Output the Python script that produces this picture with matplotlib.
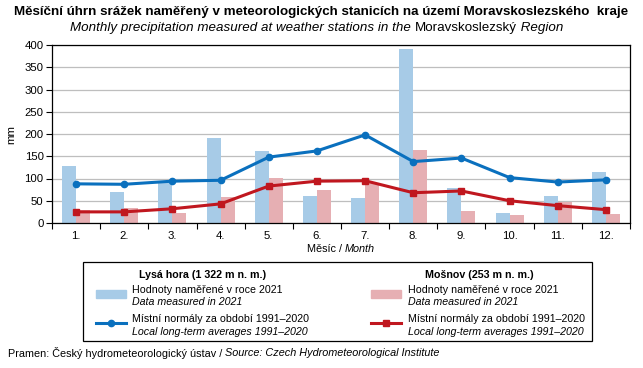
import matplotlib

matplotlib.use("Agg")
import matplotlib.pyplot as plt
import numpy as np
from matplotlib.lines import Line2D
from matplotlib.patches import Rectangle

plt.rcParams["font.family"] = ["Liberation Sans", "DejaVu Sans"]

months = ["1.", "2.", "3.", "4.", "5.", "6.", "7.", "8.", "9.", "10.", "11.", "12."]
lysa_2021 = [128, 70, 93, 191, 162, 61, 56, 391, 79, 22, 61, 115]
mosnov_2021 = [29, 34, 23, 59, 101, 74, 91, 164, 27, 18, 48, 20]
lysa_normal = [88, 87, 94, 96, 148, 162, 198, 138, 146, 102, 92, 97]
mosnov_normal = [25, 25, 32, 43, 83, 94, 95, 68, 72, 50, 39, 30]

C_LBAR = "#A7CBE7"
C_MBAR = "#E6AFB3"
C_LLINE = "#0A70BE"
C_MLINE = "#C0171F"

W, H = 643, 368
fig = plt.figure(figsize=(W / 100, H / 100), dpi=100)


def fx(x):
    return x / W


def fy(y):
    return 1 - y / H


ax = fig.add_axes([fx(52), fy(223), fx(630) - fx(52), fy(45) - fy(223)])
x = np.arange(len(months))
bw = 0.29
ax.bar(x - bw / 2, lysa_2021, width=bw, color=C_LBAR, zorder=2)
ax.bar(x + bw / 2, mosnov_2021, width=bw, color=C_MBAR, zorder=2)
ax.plot(x, lysa_normal, color=C_LLINE, lw=2.2, marker="o", ms=4.5, zorder=3)
ax.plot(x, mosnov_normal, color=C_MLINE, lw=2.2, marker="s", ms=5, zorder=3)

ax.set_xlim(-0.5, 11.5)
ax.set_ylim(0, 400)
ax.set_yticks(range(0, 401, 50))
ax.yaxis.grid(True, color="#BEBEBE", lw=0.9, zorder=0)
ax.set_axisbelow(True)
ax.set_xticks(np.arange(-0.5, 12, 1))
ax.set_xticklabels([])
ax.set_xticks(x, minor=True)
ax.set_xticklabels(months, minor=True)
ax.tick_params(axis="x", which="major", length=4, direction="out", width=0.8)
ax.tick_params(axis="x", which="minor", length=0, labelsize=8.2, pad=6)
ax.tick_params(axis="y", length=4, width=0.8, labelsize=8.2, pad=2)
for s in ax.spines.values():
    s.set_linewidth(0.9)
ax.set_ylabel("mm", fontsize=8.2, labelpad=6)

renderer = fig.canvas.get_renderer()


def mixed_text(x0, y0, parts, size, ha="left"):
    # parts: list of (text, style, weight)
    widths = []
    for txt, style, weight in parts:
        t = fig.text(0, 0, txt, fontsize=size, style=style, weight=weight)
        bb = t.get_window_extent(renderer)
        widths.append(bb.width)
        t.remove()
    total = sum(widths)
    start = x0 - total / 2 if ha == "center" else x0
    cur = start
    for (txt, style, weight), w in zip(parts, widths):
        fig.text(fx(cur), fy(y0), txt, fontsize=size, style=style, weight=weight,
                 va="center", ha="left")
        cur += w


fig.text(fx(321), fy(12), "Měsíční úhrn srážek naměřený v meteorologických stanicích na území Moravskoslezského  kraje",
         fontsize=9.6, weight="bold", ha="center", va="center")
mixed_text(317, 28, [("Monthly precipitation measured at weather stations in the ", "italic", "normal"),
                     ("Moravskoslezský", "normal", "normal"),
                     (" Region", "italic", "normal")], 9.6, ha="center")
mixed_text(341, 249, [("Měsíc / ", "normal", "normal"), ("Month", "italic", "normal")], 7.8, ha="center")

fig.patches.append(Rectangle((fx(83), fy(341)), fx(592) - fx(83), fy(262) - fy(341),
                             transform=fig.transFigure, fill=False, ec="black", lw=0.9))

for hx, px, tx, label, cbar, cline, mk in [
    (203, 96, 132, "Lysá hora (1 322 m n. m.)", C_LBAR, C_LLINE, "o"),
    (479, 371, 408, "Mošnov (253 m n. m.)", C_MBAR, C_MLINE, "s"),
]:
    fig.text(fx(hx), fy(275), label, fontsize=7.7, weight="bold", ha="center", va="center")
    fig.patches.append(Rectangle((fx(px), fy(298)), fx(px + 30) - fx(px), fy(290) - fy(298),
                                 transform=fig.transFigure, color=cbar))
    fig.text(fx(tx), fy(290), "Hodnoty naměřené v roce 2021", fontsize=7.7, va="center")
    fig.text(fx(tx), fy(302), "Data measured in 2021", fontsize=7.7, style="italic", va="center")
    fig.lines.append(Line2D([fx(px), fx(px + 30)], [fy(323), fy(323)], transform=fig.transFigure,
                            color=cline, lw=2.2))
    fig.lines.append(Line2D([fx(px + 15)], [fy(323)], transform=fig.transFigure,
                            color=cline, marker=mk, ms=4.5 if mk == "o" else 5, ls="none"))
    fig.text(fx(tx), fy(319), "Místní normály za období 1991–2020", fontsize=7.7, va="center")
    fig.text(fx(tx), fy(332), "Local long-term averages 1991–2020", fontsize=7.7, style="italic",
             va="center")

mixed_text(8, 353, [("Pramen: Český hydrometeorologický ústav / ", "normal", "normal"),
                    ("Source: Czech Hydrometeorological Institute", "italic", "normal")], 7.8)

fig.savefig("out.png", dpi=100)
